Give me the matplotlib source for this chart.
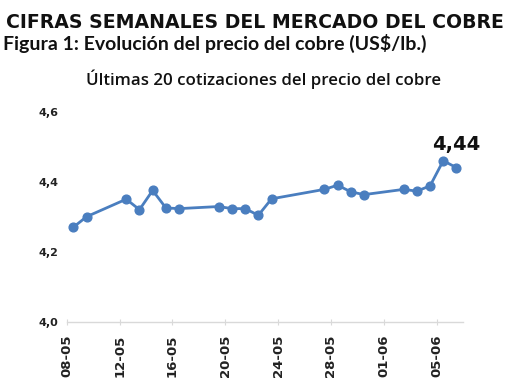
import numpy as np
import matplotlib
matplotlib.use("Agg")
import matplotlib.pyplot as plt
import matplotlib.dates as mdates

# ---- data ----
dates = ["2025-05-08", "2025-05-09", "2025-05-12", "2025-05-13", "2025-05-14",
         "2025-05-15", "2025-05-16", "2025-05-19", "2025-05-20", "2025-05-21",
         "2025-05-22", "2025-05-23", "2025-05-27", "2025-05-28", "2025-05-29",
         "2025-05-30", "2025-06-02", "2025-06-03", "2025-06-04", "2025-06-05",
         "2025-06-06"]
prices = [4.27, 4.30, 4.35, 4.32, 4.375, 4.325, 4.323, 4.329, 4.323, 4.323,
          4.304, 4.351, 4.378, 4.39, 4.371, 4.363, 4.378, 4.373, 4.388, 4.46,
          4.44]
tick_dates = ["2025-05-08", "2025-05-12", "2025-05-16", "2025-05-20",
              "2025-05-24", "2025-05-28", "2025-06-01", "2025-06-05"]
y_ticks = [4.0, 4.2, 4.4, 4.6]

title1 = "CIFRAS SEMANALES DEL MERCADO DEL COBRE"
title2 = "Figura 1: Evolución del precio del cobre (US$/lb.)"
title3 = "Últimas 20 cotizaciones del precio del cobre"

color = "#4a7ebf"

fig = plt.figure(figsize=(5.10, 3.82), dpi=100)
ax = fig.add_axes([0.131, 0.158, 0.777, 0.5496])

d = np.array(dates, dtype="datetime64[D]")
# points centred within each day slot (between tick marks)
x = mdates.date2num(d.astype("datetime64[h]") + np.timedelta64(12, "h"))
ax.plot(x, prices, color=color, lw=2.0, marker="o", ms=6.3,
        markerfacecolor=color, markeredgecolor=color, zorder=3)

ax.set_ylim(y_ticks[0], y_ticks[-1])
ax.set_yticks(y_ticks)
ax.set_yticklabels([f"{v:.1f}".replace(".", ",") for v in y_ticks],
                   fontsize=8, fontweight="bold", color="#222222")
ax.tick_params(axis="y", length=0, pad=6)

td = np.array(tick_dates, dtype="datetime64[D]")
ax.set_xticks(mdates.date2num(td))
ax.set_xticklabels([str(t)[8:10] + "-" + str(t)[5:7] for t in td],
                   rotation=90, fontsize=9.5, fontweight="bold", color="#222222")
ax.tick_params(axis="x", direction="inout", length=5, width=0.8,
               color="#d9d9d9", pad=7)
ax.set_xlim(mdates.date2num(np.datetime64("2025-05-08")),
            mdates.date2num(np.datetime64("2025-06-07")))

for s in ["top", "right", "left"]:
    ax.spines[s].set_visible(False)
ax.spines["bottom"].set_color("#d9d9d9")
ax.spines["bottom"].set_linewidth(1.0)

# last value label
ax.annotate(f"{prices[-1]:.2f}".replace(".", ","), xy=(x[-1], prices[-1]),
            xytext=(0, 10), textcoords="offset points", ha="center",
            va="bottom", fontsize=14, fontweight="bold", color="#111111",
            family=["DejaVu Sans"])

fig.text(0.5, 0.928, title1, fontsize=13.6, fontweight="bold",
         color="#111111", ha="center", va="baseline",
         family=["DejaVu Sans"])
fig.text(0.006, 0.868, title2, fontsize=14, fontweight="bold",
         color="#111111", ha="left", va="baseline",
         family=["Lato", "DejaVu Sans"])
fig.text(0.516, 0.778, title3, fontsize=12.2, fontweight="semibold",
         color="#111111", ha="center", va="baseline",
         family=["Open Sans", "DejaVu Sans"])

fig.savefig("out.png", dpi=100)
